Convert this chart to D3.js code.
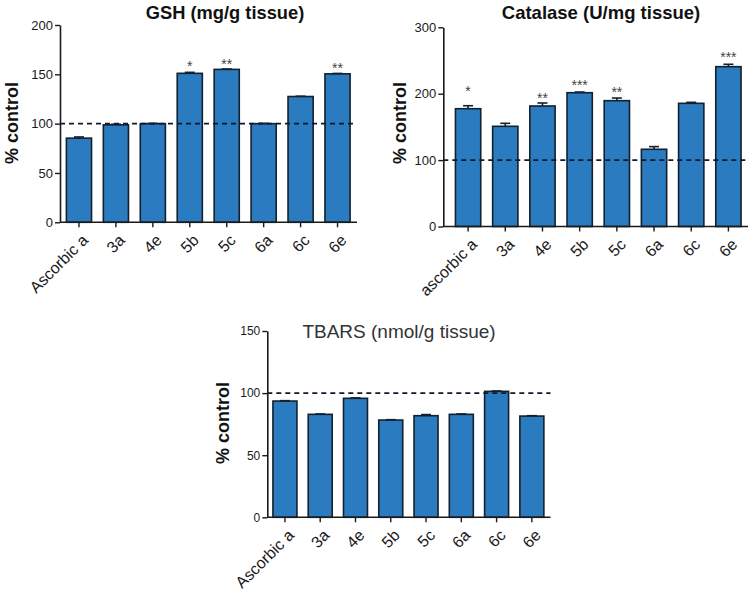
<!DOCTYPE html>
<html><head><meta charset="utf-8">
<script src="https://cdn.jsdelivr.net/npm/d3@7/dist/d3.min.js"></script>
<style>
html,body{margin:0;padding:0;background:#fff;}
svg{display:block;font-family:"Liberation Sans",Arial,sans-serif;}
</style></head><body>
<svg id="c" width="751" height="598"></svg>
<script>
// ---- data ----
const gshCategories = ["Ascorbic a","3a","4e","5b","5c","6a","6c","6e"];
const gshValues = [85.3, 98.8, 100, 151, 155, 100, 127.5, 150.5];
const gshErrors = [1.2, 0.6, 0.3, 1.0, 0.4, 0.3, 0.3, 0.4];
const gshStars = ["", "", "", "*", "**", "", "", "**"];
const gshStarAt = [null, null, null, 163.7, 166.3, null, null, 162];
const gshTicks = [0, 50, 100, 150, 200];

const catCategories = ["ascorbic a","3a","4e","5b","5c","6a","6c","6e"];
const catValues = [177.4, 150.9, 181.5, 201.5, 189.5, 116.3, 185.5, 240.7];
const catErrors = [4.5, 4.5, 4.5, 1.0, 4.0, 4.0, 1.5, 3.6];
const catStars = ["*", "", "**", "***", "**", "", "", "***"];
const catStarAt = [213, null, 201.5, 222, 210.5, null, null, 263];
const catTicks = [0, 100, 200, 300];

const tbaCategories = ["Ascorbic a","3a","4e","5b","5c","6a","6c","6e"];
const tbaValues = [93.6, 82.9, 95.8, 78.3, 81.8, 82.9, 101.4, 81.5];
const tbaErrors = [0.3, 0.3, 0.3, 0.3, 0.9, 0.3, 0.3, 0.3];
const tbaTicks = [0, 50, 100, 150];
const controlLevel = 100;

// ---- drawing ----
const svg = d3.select("#c");
const BAR = "#2a7bbf", EDGE = "#14202c", INK = "#1a1a1a";

function panel(o){
  const g = svg.append("g");
  const x = d3.scaleBand().domain(o.cats).range(o.xr).paddingInner(0.32).paddingOuter(0.16);
  const y = d3.scaleLinear().domain([0, o.max]).range(o.yr);
  // bars
  g.selectAll("rect.bar").data(o.vals).enter().append("rect")
    .attr("x",(d,i)=>x(o.cats[i])).attr("width",x.bandwidth())
    .attr("y",d=>y(d)).attr("height",d=>y(0)-y(d))
    .attr("fill",BAR).attr("stroke",EDGE).attr("stroke-width",1.6);
  // error bars (upper)
  const eg = g.append("g").attr("stroke",EDGE).attr("stroke-width",1.6);
  o.vals.forEach((v,i)=>{
    const cx = x(o.cats[i]) + x.bandwidth()/2;
    eg.append("line").attr("x1",cx).attr("x2",cx).attr("y1",y(v)).attr("y2",y(v+o.errs[i]));
    eg.append("line").attr("x1",cx-5).attr("x2",cx+5).attr("y1",y(v+o.errs[i])).attr("y2",y(v+o.errs[i]));
  });
  // dashed control line
  g.append("line").attr("x1",o.axisX).attr("x2",o.xr[1]+1)
    .attr("y1",y(controlLevel)).attr("y2",y(controlLevel))
    .attr("stroke","#0d1a2e").attr("stroke-width",1.8).attr("stroke-dasharray","5,4");
  // stars
  if(o.stars){
    o.stars.forEach((s,i)=>{
      if(!s) return;
      g.append("text").attr("x",x(o.cats[i])+x.bandwidth()/2).attr("y",y(o.starAt[i]))
        .attr("dy","0.75em").attr("text-anchor","middle").attr("font-size",14)
        .attr("fill","#444").text(s);
    });
  }
  // y axis
  const ya = g.append("g").attr("transform",`translate(${o.axisX},0)`)
    .call(d3.axisLeft(y).tickValues(o.ticks).tickSize(5).tickPadding(2).tickSizeOuter(0));
  ya.select(".domain").attr("stroke",INK).attr("stroke-width",1.6);
  ya.selectAll(".tick line").attr("stroke",INK).attr("stroke-width",1.4);
  ya.selectAll("text").attr("font-size",o.tickFs).attr("fill","#1a1a1a")
    .attr("font-family","'Liberation Sans',Arial,sans-serif");
  // x axis
  const xa = g.append("g").attr("transform",`translate(0,${y(0)})`)
    .call(d3.axisBottom(x).tickSize(5).tickSizeOuter(0));
  xa.select(".domain").attr("d",`M${o.axisX},0H${o.xr[1]+1}`).attr("stroke",INK).attr("stroke-width",1.6);
  xa.selectAll(".tick line").attr("stroke",INK).attr("stroke-width",1.4);
  xa.selectAll("text").attr("font-size",16).attr("fill","#1a1a1a")
    .attr("font-family","'Liberation Sans',Arial,sans-serif")
    .attr("text-anchor","end").attr("dy","0").attr("y",0)
    .attr("transform","translate(10,19) rotate(-45)");
  // title
  g.append("text").attr("x",o.titleX).attr("y",o.titleY).attr("text-anchor","middle")
    .attr("font-size",o.titleFs).attr("font-weight",o.titleW).attr("fill",o.titleW==="bold"?"#111":"#333")
    .text(o.title);
  // y label
  g.append("text").attr("transform",`translate(${o.ylabX},${o.ylabY}) rotate(-90)`)
    .attr("text-anchor","middle").attr("font-size",18).attr("font-weight","bold").attr("fill","#111")
    .text("% control");
}

panel({cats:gshCategories, vals:gshValues, errs:gshErrors, stars:gshStars, starAt:gshStarAt,
  ticks:gshTicks, max:200, xr:[60.5,356], yr:[222.3,25], axisX:60, tickFs:13,
  title:"GSH (mg/g tissue)", titleX:225, titleY:19, titleFs:18.3, titleW:"bold", ylabX:18, ylabY:123});
panel({cats:catCategories, vals:catValues, errs:catErrors, stars:catStars, starAt:catStarAt,
  ticks:catTicks, max:300, xr:[449.5,747], yr:[226.5,27.3], axisX:443.3, tickFs:13,
  title:"Catalase (U/mg tissue)", titleX:601, titleY:19, titleFs:18.5, titleW:"bold", ylabX:406, ylabY:123});
panel({cats:tbaCategories, vals:tbaValues, errs:tbaErrors, stars:null, starAt:null,
  ticks:tbaTicks, max:150, xr:[267.3,549.5], yr:[517.3,331], axisX:267.3, tickFs:12,
  title:"TBARS (nmol/g tissue)", titleX:399, titleY:338, titleFs:19, titleW:"normal", ylabX:229, ylabY:423});
</script>
</body></html>
